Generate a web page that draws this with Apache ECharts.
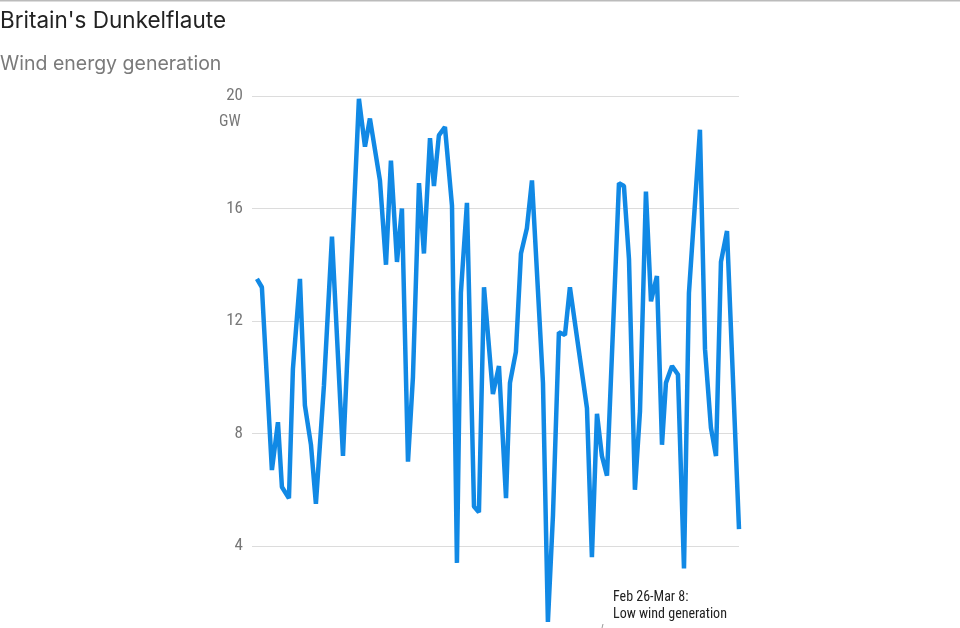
<!DOCTYPE html>
<html>
<head>
<meta charset="utf-8">
<script src="https://cdn.jsdelivr.net/npm/echarts@6/dist/echarts.min.js"></script>
<style>
html,body{margin:0;padding:0;background:#fff;}
#chart{width:960px;height:628px;}
</style>
</head>
<body>
<div id="chart"></div>
<script>
// Days since Jan 29 (fractional, sub-daily readings)
var days = [0,0.40,1.21,1.70,2.02,2.59,2.91,3.48,3.88,4.37,4.77,5.42,6.07,6.96,8.25,8.74,9.14,9.95,10.44,10.84,11.33,11.73,12.22,12.62,13.11,13.51,14.00,14.32,14.72,15.21,15.78,16.18,16.50,16.99,17.56,17.96,18.37,19.09,19.58,20.15,20.47,20.95,21.36,21.84,22.25,23.14,23.54,23.95,24.43,24.92,25.32,26.70,27.10,27.51,27.91,28.32,29.29,29.69,30.10,30.58,30.99,31.47,31.88,32.36,32.77,33.09,33.58,34.06,34.55,34.95,35.84,36.25,36.73,37.14,37.54,38.03,39.00];
// Wind generation, GW
var windGW = [13.5,13.2,6.7,8.4,6.1,5.7,10.3,13.5,9.0,7.6,5.5,9.7,15.0,7.2,19.9,18.2,19.2,17.0,14.0,17.7,14.1,16.0,7.0,10.0,16.9,14.4,18.5,16.8,18.6,18.9,16.1,3.4,13.0,16.2,5.4,5.2,13.2,9.4,10.4,5.7,9.8,10.9,14.4,15.3,17.0,9.8,1.3,5.1,11.6,11.5,13.2,8.9,3.6,8.7,7.2,6.5,16.9,16.8,14.2,6.0,8.8,16.6,12.7,13.6,7.6,9.8,10.4,10.1,3.2,13.0,18.8,11.0,8.2,7.2,14.1,15.2,4.6];
var yTicks = [0,4,8,12,16,20];
var titleText = "Britain's Dunkelflaute";
var subtitleText = "Wind energy generation";
var unitText = "GW";
var noteLines = ["Feb 26-Mar 8:", "Low wind generation"];

var seriesData = days.map(function(d, i){ return [d, windGW[i]]; });

var chart = echarts.init(document.getElementById('chart'), null, {renderer:'canvas'});
var condensed = "'Roboto Condensed','Liberation Sans Narrow','DejaVu Sans Condensed','Roboto',sans-serif";
chart.setOption({
  animation:false,
  backgroundColor:'#fff',
  title:[
    {text:titleText, left:0, top:10, padding:0, textStyle:{fontFamily:'Inter, sans-serif', fontSize:22.5, fontWeight:'normal', color:'#222'}},
    {text:subtitleText, left:0, top:54, padding:0, textStyle:{fontFamily:'Inter, sans-serif', fontSize:19.5, fontWeight:'normal', color:'#7a7a7a'}}
  ],
  grid:{left:252, top:96, width:487, height:562.5, containLabel:false, outerBoundsMode:'none'},
  xAxis:{type:'value', min:-0.4, max:39, show:false},
  yAxis:{
    type:'value', min:yTicks[0], max:yTicks[yTicks.length-1], interval:4,
    axisLine:{show:false}, axisTick:{show:false},
    splitLine:{lineStyle:{color:'#dcdcdc', width:1}},
    axisLabel:{margin:9, color:'#777', fontSize:17, fontFamily:condensed,
      formatter:function(v){ return v===0 ? '' : String(v); }}
  },
  series:[{
    type:'line', data:seriesData, symbol:'none', smooth:false,
    lineStyle:{color:'#1189e5', width:4.5}
  }],
  graphic:[
    {type:'line', shape:{x1:0,y1:0.5,x2:960,y2:0.5}, style:{stroke:'#bbbbbb', lineWidth:2}},
    {type:'text', left:219, top:114, style:{text:unitText, fill:'#777', font:'16px '+condensed}},
    {type:'text', left:613, top:589, style:{text:noteLines.join('\n'), fill:'#222', font:'14px '+condensed, lineHeight:17}},
    {type:'line', shape:{x1:603,y1:624,x2:602,y2:628}, style:{stroke:'#999', lineWidth:1}}
  ]
});
</script>
</body>
</html>
